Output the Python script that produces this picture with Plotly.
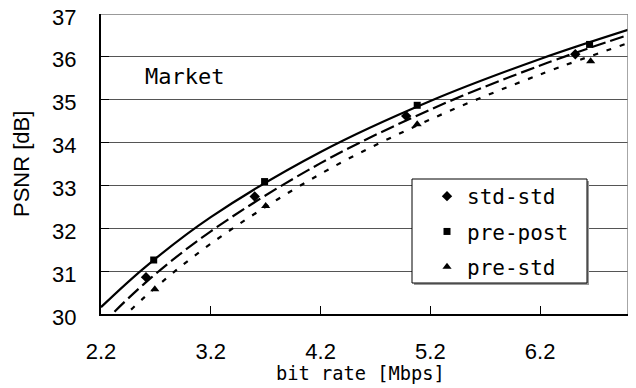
import plotly.graph_objects as go

# Measured points
std_std_x = [2.61, 3.60, 4.98, 6.52]
std_std_y = [30.86, 32.74, 34.62, 36.06]
pre_post_x = [2.68, 3.69, 5.08, 6.65]
pre_post_y = [31.26, 33.09, 34.87, 36.29]
pre_std_x = [2.69, 3.70, 5.08, 6.66]
pre_std_y = [30.58, 32.52, 34.43, 35.90]

# Trend curves
curve_x = [2.2, 2.6, 3.2, 4.2, 5.2, 6.2, 7.0]
std_std_curve = [29.74, 30.72, 31.93, 33.52, 34.77, 35.80, 36.51]
pre_post_curve = [30.16, 31.09, 32.26, 33.78, 34.97, 35.95, 36.63]
pre_std_curve = [29.41, 30.40, 31.64, 33.27, 34.54, 35.59, 36.32]

x_ticks = [2.2, 3.2, 4.2, 5.2, 6.2]
x_tick_labels = ["2.2", "3.2", "4.2", "5.2", "6.2"]
y_ticks = [30, 31, 32, 33, 34, 35, 36, 37]
y_tick_labels = ["30", "31", "32", "33", "34", "35", "36", "37"]

GOTHIC = "DejaVu Sans Mono"
ARIAL = "Liberation Sans, Arial"

OFF = 8  # page body margin
# plot area in window pixels
L, R, T, B = 101, 628, 14, 314
W, H = R - L, B - T


def px(xp):
    return (xp - L) / W


def py(yp):
    return (B - yp) / H


fig = go.Figure()

fig.add_trace(go.Scatter(x=curve_x, y=pre_post_curve, mode="lines", line=dict(color="black", width=2.2, shape="spline"), showlegend=False, hoverinfo="skip"))
fig.add_trace(go.Scatter(x=curve_x, y=std_std_curve, mode="lines", line=dict(color="black", width=2.2, dash="14px,5px", shape="spline"), showlegend=False, hoverinfo="skip"))
fig.add_trace(go.Scatter(x=curve_x, y=pre_std_curve, mode="lines", line=dict(color="black", width=2.2, dash="5px,9px", shape="spline"), showlegend=False, hoverinfo="skip"))

fig.add_trace(go.Scatter(x=std_std_x, y=std_std_y, mode="markers", name="std-std", legendgroup="a",
                         marker=dict(symbol="diamond", size=8, color="black")))
fig.add_trace(go.Scatter(x=pre_post_x, y=pre_post_y, mode="markers", name="pre-post", legendgroup="b",
                         marker=dict(symbol="square", size=7, color="black")))
fig.add_trace(go.Scatter(x=pre_std_x, y=pre_std_y, mode="markers", name="pre-std", legendgroup="c",
                         marker=dict(symbol="triangle-up", size=8, color="black")))

# Legend box (shadow + frame)
fig.add_shape(type="rect", xref="paper", yref="paper",
              x0=px(414), x1=px(589), y0=py(285), y1=py(181),
              line=dict(width=0), fillcolor="#999999", layer="above")
fig.add_shape(type="rect", xref="paper", yref="paper",
              x0=px(412), x1=px(587), y0=py(283), y1=py(179),
              line=dict(color="black", width=1), fillcolor="white", layer="above")
# top and right frame
fig.add_shape(type="line", xref="x", yref="y", x0=2.2, x1=7.0, y0=37, y1=37, line=dict(color="#777777", width=1.5), layer="above")
fig.add_shape(type="line", xref="x", yref="y", x0=7.0, x1=7.0, y0=30, y1=37, line=dict(color="#888888", width=1.5), layer="above")

# y tick labels (placed slightly below their gridlines, as in the original)
for v, lab in zip(y_ticks, y_tick_labels):
    fig.add_annotation(text=lab, xref="paper", yref="y", x=px(78), y=v, yshift=-3,
                       xanchor="right", yanchor="middle", showarrow=False,
                       font=dict(family=ARIAL, size=22, color="black"))

fig.add_annotation(text="Market", xref="paper", yref="paper", x=px(143), y=py(77),
                   xanchor="left", yanchor="middle", showarrow=False, font=dict(family=GOTHIC, size=22, color="black"))
fig.add_annotation(text="bit rate [Mbps]", xref="paper", yref="paper", x=px(360), y=py(373),
                   xanchor="center", yanchor="middle", showarrow=False, font=dict(family=GOTHIC, size=18.7, color="black"))
fig.add_annotation(text="PSNR [dB]", xref="paper", yref="paper", x=px(21), y=py(164), textangle=-90,
                   xanchor="center", yanchor="middle", showarrow=False, font=dict(family=ARIAL, size=22, color="black"))

fig.update_layout(
    width=636, height=388,
    margin=dict(l=L - OFF, r=636 - (R - OFF), t=T - OFF, b=388 - (B - OFF), autoexpand=False),
    paper_bgcolor="white", plot_bgcolor="white",
    showlegend=True,
    legend=dict(x=px(427), y=py(176), xanchor="left", yanchor="top",
                bgcolor="rgba(0,0,0,0)", borderwidth=0, traceorder="grouped", tracegroupgap=5,
                font=dict(family=GOTHIC, size=21, color="black")),
    xaxis=dict(range=[2.2, 7.0], tickvals=x_ticks, ticktext=x_tick_labels, ticks="inside", ticklen=8,
               tickcolor="black", showline=True, linecolor="black", linewidth=1.5, showgrid=False,
               zeroline=False, ticklabelstandoff=17, automargin=False,
               tickfont=dict(family=ARIAL, size=22, color="black")),
    yaxis=dict(range=[30, 37], tickvals=y_ticks, ticks="inside", ticklen=8, tickcolor="black",
               showline=True, linecolor="black", linewidth=1.5, showgrid=True, gridcolor="#555555", gridwidth=1,
               zeroline=False, showticklabels=False, automargin=False),
)

fig.write_html("out.html")
